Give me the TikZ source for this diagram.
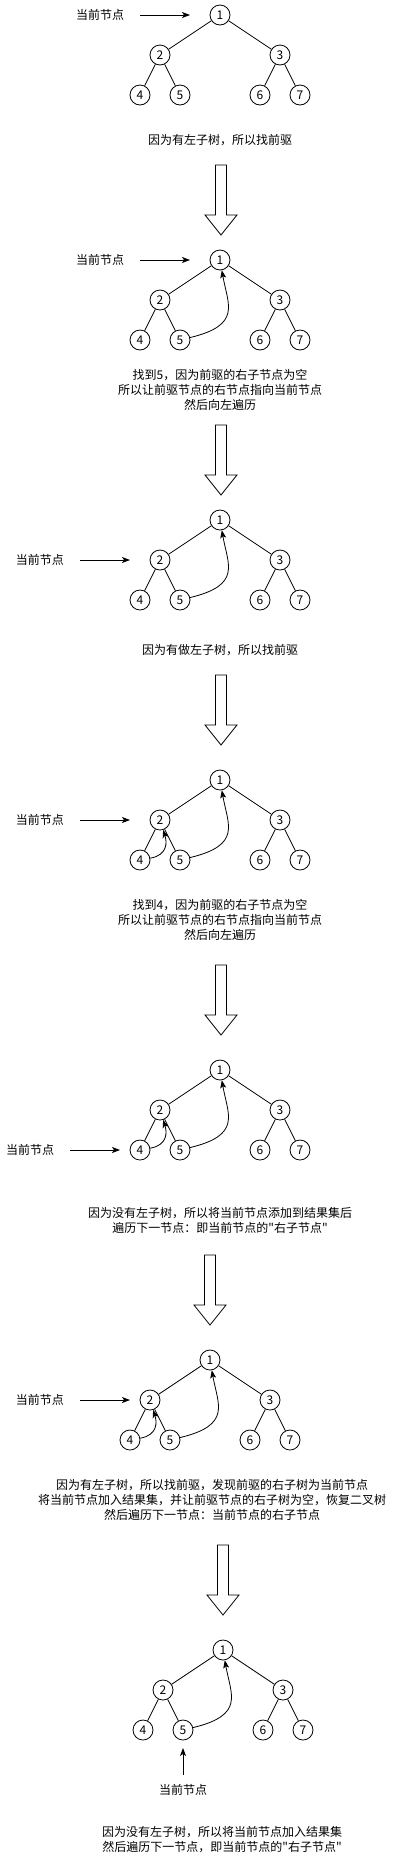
\documentclass[tikz,border=0pt]{standalone}
\usepackage{fontspec}
\newfontfamily\cjkfont{Noto Sans CJK SC}
\usetikzlibrary{positioning,arrows.meta}

\begin{document}
\begin{tikzpicture}[x=1pt,y=1pt,>={Stealth[length=8pt,width=6pt,inset=2pt]},thick,node distance=40pt and 60pt,on grid,
    main node/.style={circle,draw,minimum size=20pt,inner sep=0pt,font=\cjkfont\fontsize{12}{14}\selectfont},
    cur label/.style={minimum width=80pt,minimum height=30pt,inner sep=0pt,font=\cjkfont\fontsize{12}{14}\selectfont},
    caption/.style={align=center,inner sep=0pt,font=\cjkfont\fontsize{12}{15}\selectfont},
    big arrow/.style={draw,fill=white,line width=0.8pt,line join=miter}]
    \useasboundingbox (0,0) rectangle (401,-1856);

    \foreach \tr/\x/\y in {a/220/-15,b/220/-260,c/220/-520,d/220/-780,e/220/-1070,f/210/-1360,g/223/-1650}{
        \node[main node] (\tr1) at (\x,\y) {1};
        \node[main node] (\tr2) [below left=of \tr1] {2};
        \node[main node] (\tr3) [below right=of \tr1] {3};
        \node[main node] (\tr4) [below left=40pt and 20pt of \tr2] {4};
        \node[main node] (\tr5) [below right=40pt and 20pt of \tr2] {5};
        \node[main node] (\tr6) [below left=40pt and 20pt of \tr3] {6};
        \node[main node] (\tr7) [below right=40pt and 20pt of \tr3] {7};

        \path
            (\tr1) edge (\tr2)
            (\tr1) edge (\tr3)
            (\tr2) edge (\tr4)
            (\tr2) edge (\tr5)
            (\tr3) edge (\tr6)
            (\tr3) edge (\tr7)
            ;
    }

    \foreach \tr/\x/\y/\ex in {a/100/-15/190,b/100/-260/190,c/40/-560/130,d/40/-820/130,e/30/-1150/120,f/40/-1400/130}{
        \node[cur label] (l\tr) at (\x,\y) {当前节点};
        \coordinate (e\tr) at (\ex,\y);
        \draw[->] (l\tr) -- (e\tr);
    }
    \node[cur label] (lg) at (183,-1790) {当前节点};
    \coordinate (eg) at (183,-1748);
    \draw[->] (lg) -- (eg);

    \foreach \tr in {b,c,d,e,f,g}
        \draw[->] (\tr5) .. controls +(62,15) and +(8,-45) .. (\tr1);
    \foreach \tr in {d,e,f}
        \draw[->] (\tr4) .. controls +(28,5) and +(7,-22) .. (\tr2);

    \foreach \x/\y in {221/-165,221/-425,221/-675,221/-965,210/-1255,223/-1545}
        \draw[big arrow] (\x-5.5,\y) -- (\x+5.5,\y) -- (\x+5.5,\y-50) -- (\x+16,\y-50) -- (\x,\y-70)
            -- (\x-16,\y-50) -- (\x-5.5,\y-50) -- cycle;

    \node[caption] (capa) at (220,-140) {因为有左子树，所以找前驱};
    \node[caption] (capb) at (220,-389.5) {找到5，因为前驱的右子节点为空\\所以让前驱节点的右节点指向当前节点\\然后向左遍历};
    \node[caption] (capc) at (220,-650) {因为有做左子树，所以找前驱};
    \node[caption] (capd) at (220,-920) {找到4，因为前驱的右子节点为空\\所以让前驱节点的右节点指向当前节点\\然后向左遍历};
    \node[caption] (cape) at (220,-1220.5) {因为没有左子树，所以将当前节点添加到结果集后\\遍历下一节点：即当前节点的"右子节点"};
    \node[caption] (capf) at (212,-1500) {因为有左子树，所以找前驱，发现前驱的右子树为当前节点\\将当前节点加入结果集，并让前驱节点的右子树为空，恢复二叉树\\然后遍历下一节点：当前节点的右子节点};
    \node[caption] (capg) at (222,-1840) {因为没有左子树，所以将当前节点加入结果集\\然后遍历下一节点，即当前节点的"右子节点"};
\end{tikzpicture}
\end{document}
